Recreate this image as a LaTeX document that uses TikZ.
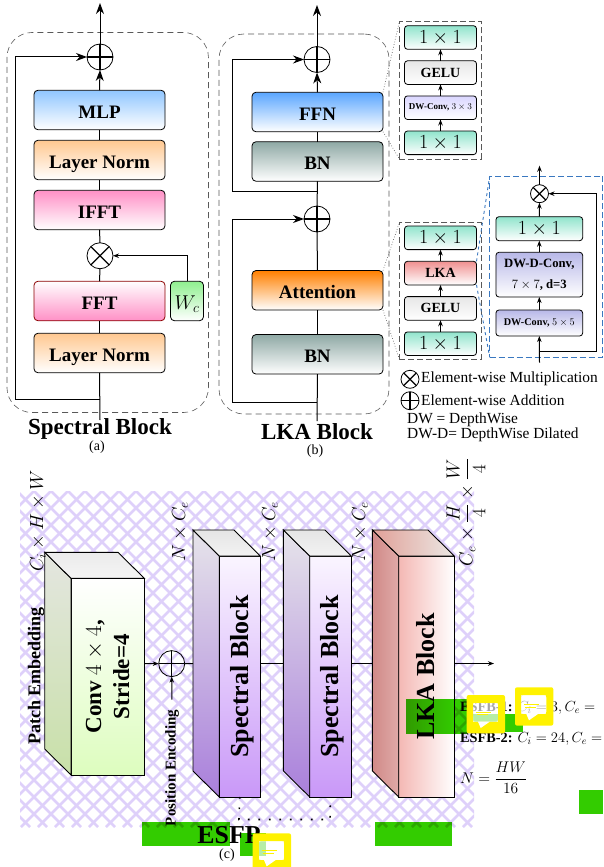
\documentclass[tikz,border=0pt]{standalone}
\usepackage{fix-cm}
\usepackage{amsmath}
\usepackage[no-math]{fontspec}
\setmainfont{Liberation Serif}
\usepackage{xcolor}
\usetikzlibrary{arrows.meta, positioning, calc, shapes.geometric}
\newcommand{\fsz}[1]{\fontsize{#1}{#1}\selectfont}
\definecolor{esgreen}{HTML}{33CC00}
\definecolor{mlpblue}{HTML}{90C6FF}
\definecolor{ffnblue}{HTML}{5AA6FF}
\definecolor{normorange}{HTML}{FFC890}
\definecolor{fftpink}{HTML}{FF90C6}
\definecolor{wcgreen}{HTML}{8FF08F}
\definecolor{bngray}{HTML}{8FA9A5}
\definecolor{attorange}{HTML}{FF8000}
\definecolor{oneteal}{HTML}{90E4CC}
\definecolor{geluwhite}{HTML}{E6E6E6}
\definecolor{dwlilac}{HTML}{DAD6FF}
\definecolor{ddwlilac}{HTML}{B8B8E8}
\definecolor{lkared}{HTML}{F09090}
\definecolor{zoomblue}{HTML}{3A78C0}
\definecolor{hatchlilac}{HTML}{DED0FA}
\tikzset{
  %% Large block of the two upper panels
  blk/.style={
    rectangle, rounded corners=4pt, outer sep=0pt,
    draw=black, top color=#1, bottom color=white,
    minimum width=131pt, minimum height=39.5pt,
    text centered, font=\fsz{19}\bfseries,
    text height=16pt, text depth=0pt,
    inner sep=2pt, line width=0.8pt
  },
  blk/.default=white,
  %% Small block of the zoomed panels
  sblk/.style={
    rectangle, rounded corners=3pt, outer sep=0pt,
    draw=black, top color=#1, bottom color=white,
    minimum width=72pt, minimum height=23.6pt,
    text centered, font=\fsz{14}\bfseries,
    inner sep=1pt, line width=0.8pt
  },
  sblk/.default=white,
  %% Dashed panel
  dpanel/.style={
    rectangle, rounded corners=25pt, outer sep=0pt,
    draw=black!65, dash pattern=on 6pt off 4pt, line width=0.6pt
  },
  zpanel/.style={
    rectangle, outer sep=0pt, draw=#1,
    dash pattern=on 6pt off 3pt, line width=0.8pt
  },
  zpanel/.default=black!65,
  zline/.style={draw=black!60, dotted, line width=0.7pt},
  %% Sum and product circles
  addop/.style={
    circle, draw=black, minimum size=#1, inner sep=0pt, outer sep=0pt,
    line width=0.8pt,
    path picture={
      \draw[line width=1.2pt] (path picture bounding box.north) -- (path picture bounding box.south);
      \draw[line width=1.2pt] (path picture bounding box.west) -- (path picture bounding box.east);
    }
  },
  addop/.default=26pt,
  mulop/.style={
    circle, draw=black, minimum size=#1, inner sep=0pt, outer sep=0pt,
    line width=0.8pt,
    path picture={
      \draw[line width=1.2pt] (path picture bounding box.north west) -- (path picture bounding box.south east);
      \draw[line width=1.2pt] (path picture bounding box.south west) -- (path picture bounding box.north east);
    }
  },
  mulop/.default=26pt,
  %% Lines and arrows
  wire/.style={draw=black, line width=1pt},
  arr/.style={-{Stealth[length=11pt,width=8pt]}, draw=black, line width=1pt},
  sarr/.style={-{Stealth[length=6pt,width=4.5pt]}, draw=black, line width=1pt},
  %% Labels
  legtxt/.style={font=\fsz{15.4}, inner sep=0pt, anchor=west},
  title/.style={font=\fsz{23}\bfseries, inner sep=0pt},
  sublabel/.style={font=\fsz{14}, inner sep=0pt},
  rotlabel/.style={rotate=90, inner sep=0pt, font=\fsz{19}},
  esgreenbox/.style={fill=esgreen, blend mode=multiply},
}
%% Cuboid: name, centre, width, height, then shading of front, side and top
\newcommand{\cuboid}[7]{%
  \node[rectangle, outer sep=0pt, draw=black, line width=0.9pt, inner sep=0pt,
        minimum width=#3pt, minimum height=#4pt, #5] (#1) at (#2) {};
  \draw[line width=0.9pt, #6] ($(#1.north west)+(-26.3,-26)$) -- (#1.north west)
    -- (#1.south west) -- ($(#1.south west)+(-26.3,-26)$) -- cycle;
  \draw[line width=0.9pt, #7] ($(#1.north west)+(-26.3,-26)$) -- (#1.north west)
    -- (#1.north east) -- ($(#1.north east)+(-26.3,-26)$) -- cycle;
  \coordinate (#1in) at ($(#1.west)+(-26.3,-13)$);
  \coordinate (#1out) at ($(#1.east)+(0,-13)$);
}
%% Comment mark
\newcommand{\notemark}[2]{%
  \begin{scope}[shift={(#1,#2)}]
    \fill[yellow, rounded corners=2pt, even odd rule] (0,0) rectangle (38.3,38.3) (6.3,8) rectangle (31.3,26.7);
    \fill[white, opacity=0.65] (6.3,8) rectangle (31.3,26.7);
    \fill[white] (11.3,26.7) -- (14,33) -- (23,26.7) -- cycle;
    \draw[yellow, line width=0.9pt] (9,17.3) -- (24.3,17.3);
    \draw[yellow, line width=0.9pt] (10,19.7) -- (21,19.7);
  \end{scope}
}
\begin{document}
\begin{tikzpicture}[x=1pt,y=-1pt]
  \useasboundingbox (0,0) rectangle (603,867);

  %% (a) Spectral block
  \node[dpanel, minimum width=201.5pt, minimum height=380pt] (specpanel) at (107.7,222.5) {};
  \node[addop] (specadd) at (100,57) {};
  \node[blk=mlpblue] (mlp) at (99.5,110) {MLP};
  \node[blk=normorange, below=10.5pt of mlp] (lnorma) {Layer Norm};
  \node[blk=fftpink, below=10.5pt of lnorma] (ifft) {IFFT};
  \node[mulop, below=13pt of ifft, xshift=0.5pt] (specmul) {};
  \node[blk=white, bottom color=fftpink, draw=red!55!black,
        below=51.5pt of ifft] (fft) {FFT};
  \node[blk=normorange, below=12.5pt of fft] (lnormb) {Layer Norm};
  \node[blk=wcgreen, minimum width=33pt, right=5.5pt of fft,
        font=\fsz{20}] (wc) {$W_c$};
  \coordinate (specin) at (100,420);
  \coordinate (specjoin) at (100,399.5);
  \coordinate (specleft) at (15,399.5);
  \coordinate (spectop) at (100,3);
  \draw[wire] (specin) -- (lnormb.south);
  \draw[wire] (lnormb.north) -- (fft.south);
  \draw[wire] (fft.north) -- (specmul.south);
  \draw[wire] (specmul.north) -- (ifft.south);
  \draw[wire] (ifft.north) -- (lnorma.south);
  \draw[wire] (lnorma.north) -- (mlp.south);
  \draw[arr] (mlp.north) -- (specadd.south);
  \draw[arr] (specadd.north) -- (spectop);
  \draw[arr] (specjoin) -- (specleft) |- (specadd.west);
  \draw[sarr] (wc.north) |- (specmul.east);
  \node[title] (spectitle) at (100,429) {Spectral Block};
  \node[sublabel] (suba) at (97,447) {(a)};

  %% (b) LKA block
  \node[dpanel, minimum width=170pt, minimum height=380pt] (lkapanel) at (304,224) {};
  \node[addop] (ffnadd) at (317,59.5) {};
  \node[blk=ffnblue] (ffn) at (317.5,112) {FFN};
  \node[blk=bngray, below=10pt of ffn] (bna) {BN};
  \node[addop] (attadd) at (317,219) {};
  \node[blk=attorange] (att) at (317.5,290.3) {Attention};
  \node[blk=bngray, below=24.5pt of att] (bnb) {BN};
  \coordinate (lkain) at (317,421);
  \coordinate (lkajoinb) at (317,402);
  \coordinate (lkaleftb) at (232,402);
  \coordinate (lkajoina) at (317,191.5);
  \coordinate (lkalefta) at (232,191.5);
  \coordinate (lkatop) at (317,5);
  \draw[wire] (lkain) -- (bnb.south);
  \draw[wire] (bnb.north) -- (att.south);
  \draw[wire] (att.north) -- (attadd.south);
  \draw[wire] (attadd.north) -- (bna.south);
  \draw[wire] (bna.north) -- (ffn.south);
  \draw[arr] (ffn.north) -- (ffnadd.south);
  \draw[arr] (ffnadd.north) -- (lkatop);
  \draw[arr] (lkajoinb) -- (lkaleftb) |- (attadd.west);
  \draw[arr] (lkajoina) -- (lkalefta) |- (ffnadd.west);
  \node[title] (lkatitle) at (317,431.5) {LKA Block};
  \node[sublabel] (subb) at (315,451) {(b)};

  %% FFN detail
  \node[zpanel, minimum width=81.5pt, minimum height=137.5pt] (ffnzoom) at (440.2,90.2) {};
  \node[sblk=oneteal, font=\fsz{20}] (ffntop) at (440.5,37.5) {$1\times1$};
  \node[sblk=geluwhite, below=11.5pt of ffntop] (ffngelu) {GELU};
  \node[sblk=dwlilac, below=11.5pt of ffngelu, font=\fsz{9}\bfseries] (ffndw) {DW-Conv, $3\times3$};
  \node[sblk=oneteal, below=11.5pt of ffndw, font=\fsz{20}] (ffnbot) {$1\times1$};
  \draw[sarr] (ffnbot.north) -- (ffndw.south);
  \draw[sarr] (ffndw.north) -- (ffngelu.south);
  \draw[sarr] (ffngelu.north) -- (ffntop.south);
  \draw[zline] (ffn.north east) -- (ffnzoom.north west);
  \draw[zline] (ffn.south east) -- (ffnzoom.south west);

  %% Attention detail
  \node[zpanel, minimum width=81.5pt, minimum height=137pt] (attzoom) at (440.2,290.8) {};
  \node[sblk=oneteal, font=\fsz{20}] (atttop) at (440.5,237.8) {$1\times1$};
  \node[sblk=lkared, below=11.7pt of atttop] (attlka) {LKA};
  \node[sblk=geluwhite, below=11.7pt of attlka] (attgelu) {GELU};
  \node[sblk=oneteal, below=11.7pt of attgelu, font=\fsz{20}] (attbot) {$1\times1$};
  \draw[sarr] (attbot.north) -- (attgelu.south);
  \draw[sarr] (attgelu.north) -- (attlka.south);
  \draw[sarr] (attlka.north) -- (atttop.south);
  \draw[zline] (att.north east) -- (attzoom.north west);
  \draw[zline] (att.south east) -- (attzoom.south west);

  %% LKA detail
  \node[zpanel=zoomblue, minimum width=113pt, minimum height=181.3pt] (lkazoom) at (546.2,266.7) {};
  \node[mulop=18pt] (lkamul) at (539.5,193.7) {};
  \node[sblk=oneteal, minimum width=86.7pt, minimum height=24pt, font=\fsz{20}] (lkaone) at (539.3,228.7) {$1\times1$};
  \node[sblk=ddwlilac, minimum width=86.7pt, minimum height=44.7pt, align=center,
        font=\fsz{12.7}\bfseries, below=11.6pt of lkaone] (lkaddw) {DW-D-Conv,\\[8pt]$7\times7$, d=3};
  \node[sblk=ddwlilac, minimum width=86.7pt, minimum height=26pt,
        font=\fsz{10.2}\bfseries, below=13pt of lkaddw] (lkadw) {DW-Conv, $5\times5$};
  \coordinate (lkazin) at (539.5,362.5);
  \coordinate (lkazjoin) at (539.5,351.7);
  \coordinate (lkazright) at (596.5,351.7);
  \coordinate (lkaztop) at (539.5,165.7);
  \draw[sarr] (lkazin) -- (lkadw.south);
  \draw[sarr] (lkadw.north) -- (lkaddw.south);
  \draw[sarr] (lkaddw.north) -- (lkaone.south);
  \draw[sarr] (lkaone.north) -- (lkamul.south);
  \draw[sarr] (lkamul.north) -- (lkaztop);
  \draw[sarr] (lkazjoin) -- (lkazright) |- (lkamul.east);
  \draw[draw=zoomblue, dashed, line width=0.9pt] (attlka.north east) -- (lkazoom.north west);
  \draw[draw=zoomblue, dashed, line width=0.9pt] (attlka.south east) -- (lkazoom.south west);

  %% Legend
  \node[mulop=18pt] (legmul) at (410,379.3) {};
  \node[legtxt] (legmultxt) at (421,379) {Element-wise Multiplication};
  \node[addop=18pt] (legadd) at (410,400.7) {};
  \node[legtxt] (legaddtxt) at (421,400) {Element-wise Addition};
  \node[legtxt] (legdw) at (407,420) {DW = DepthWise};
  \node[legtxt] (legdwd) at (407,435) {DW-D= DepthWise Dilated};

  %% (c) hatched ground
  \begin{scope}
    \clip (20,491) rectangle (474,827);
    \foreach \hx in {-340,-323,...,840} {
      \draw[hatchlilac, line width=2.6pt] (\hx,491) -- (\hx+336,827);
      \draw[hatchlilac, line width=2.6pt] (\hx,491) -- (\hx-336,827);
    }
  \end{scope}

  %% Cuboids
  \cuboid{conv}{107.7,676.7}{73.3}{196.7}
    {top color=white, bottom color={rgb,255:red,221;green,253;blue,190}}
    {top color={rgb,255:red,228;green,230;blue,224}, bottom color={rgb,255:red,200;green,224;blue,168}}
    {top color=black!8, bottom color=black!4}
  \cuboid{speca}{239.8,676.5}{41}{241}
    {top color={rgb,255:red,250;green,245;blue,255}, bottom color={rgb,255:red,201;green,152;blue,248}}
    {top color={rgb,255:red,230;green,228;blue,234}, bottom color={rgb,255:red,169;green,127;blue,219}}
    {top color=black!10, bottom color=black!5}
  \cuboid{specb}{330.5,676.5}{41.6}{241}
    {top color={rgb,255:red,250;green,245;blue,255}, bottom color={rgb,255:red,201;green,152;blue,248}}
    {top color={rgb,255:red,230;green,228;blue,234}, bottom color={rgb,255:red,169;green,127;blue,219}}
    {top color=black!10, bottom color=black!5}
  \cuboid{lka}{426.5,676.5}{55.6}{241}
    {left color={rgb,255:red,244;green,184;blue,180}, right color=white}
    {left color={rgb,255:red,208;green,138;blue,136}, right color={rgb,255:red,224;green,170;blue,168}}
    {left color={rgb,255:red,224;green,160;blue,152}, right color={rgb,255:red,236;green,232;blue,228}}

  \node[rotate=90, font=\fsz{23}\bfseries, align=center, inner sep=0pt] (convtxt) at (conv.center) {Conv $4\times4$,\\[5pt]Stride=4};
  \node[rotate=90, font=\fsz{26}\bfseries, inner sep=0pt] (specatxt) at ([xshift=2pt]speca.center) {Spectral Block};
  \node[rotate=90, font=\fsz{26}\bfseries, inner sep=0pt] (specbtxt) at ([xshift=2pt]specb.center) {Spectral Block};
  \node[rotate=90, font=\fsz{26}\bfseries, inner sep=0pt] (lkatxt) at ([xshift=-1pt]lka.center) {LKA Block};

  \node[addop] (posadd) at (171.7,663.6) {};
  \node[rotate=90, font=\fsz{15}\bfseries, inner sep=0pt] (posenc) at (172,768) {Position Encoding};
  \coordinate (outend) at (494,663.5);
  \draw[sarr] (convout) -- (posadd.west);
  \draw[wire] (posadd.east) -- (specain);
  \draw[wire] (specaout) -- (specbin);
  \draw[wire] (specbout) -- (lkain);
  \draw[sarr, shorten <=10pt] (posenc.east) -- (posadd.south);
  \draw[sarr] (lkaout) -- (outend);

  %% Dotted bracket
  \coordinate (brka) at (239,819.5);
  \coordinate (brkb) at (330,819.5);
  \draw[dotted, line width=1.6pt, dash pattern=on 1.6pt off 8.9pt] (speca.south) -- (brka) -- (brkb) -- (specb.south);

  %% (c) labels
  \node[rotate=90, font=\fsz{18}\bfseries, inner sep=0pt] (patchlab) at (36,676) {Patch Embedding};
  \node[rotlabel] (dimin) at (38,521) {$C_i\times H\times W$};
  \node[rotlabel] (dima) at (180,532) {$N\times C_e$};
  \node[rotlabel] (dimb) at (270,532) {$N\times C_e$};
  \node[rotlabel] (dimc) at (360,532) {$N\times C_e$};
  \node[rotlabel] (dimout) at (466,512) {$C_e\times\dfrac{H}{4}\times\dfrac{W}{4}$};

  %% Highlight patches
  \fill[esgreenbox] (142,822.3) rectangle (230,846);
  \fill[esgreenbox] (240,833) rectangle (266,856);
  \fill[esgreenbox] (375,822.3) rectangle (452,846);
  \fill[esgreenbox] (406,699) rectangle (467,734);
  \fill[esgreenbox] (467,714) rectangle (523,731.7);
  \fill[esgreenbox] (579,790) rectangle (603,814);

  \node[font=\fsz{25.8}\bfseries, inner sep=0pt] (esfplab) at (229,835) {ESFP};
  \node[sublabel] (subc) at (227,855) {(c)};
  \node[font=\fsz{14.6}, inner sep=0pt, anchor=west] (esfba) at (460,708) {{\fsz{14.3}\bfseries ESFB-1:} $C_i=3, C_e=$};
  \node[font=\fsz{14.6}, inner sep=0pt, anchor=west] (esfbb) at (460,739) {{\fsz{14.3}\bfseries ESFB-2:} $C_i=24, C_e=$};
  \node[font=\fsz{15.5}, inner sep=0pt, anchor=west] (nform) at (460,778) {$N=\dfrac{HW}{16}$};

  \notemark{466.7}{695}
  \notemark{515}{687.3}
  \notemark{252.7}{833.3}
\end{tikzpicture}
\end{document}
